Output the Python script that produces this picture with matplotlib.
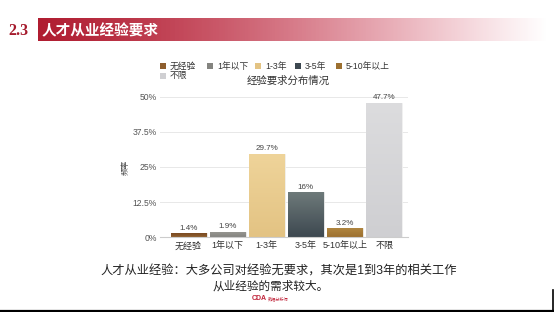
import numpy as np
import matplotlib
matplotlib.use("Agg")
import matplotlib.pyplot as plt
from matplotlib.patches import Rectangle
from matplotlib.colors import to_rgb

plt.rcParams['font.family'] = ['Liberation Sans', 'Noto Sans CJK SC', 'DejaVu Sans']

categories = ['无经验', '1年以下', '1-3年', '3-5年', '5-10年以上', '不限']
values = [1.4, 1.9, 29.7, 16.0, 3.2, 47.7]
value_labels = ['1.4%', '1.9%', '29.7%', '16%', '3.2%', '47.7%']
yticks = [0, 12.5, 25, 37.5, 50]
ytick_labels = ['0%', '12.5%', '25%', '37.5%', '50%']
colors_top = ['#7a4a22', '#999893', '#efd49a', '#6e7a7a', '#b08640', '#dcdcde']
colors_bot = ['#8e5e2e', '#848480', '#e3c383', '#3d4850', '#9c7030', '#cfcfd2']

W, H = 554, 312
fig = plt.figure(figsize=(W / 100, H / 100), dpi=100)
fig.patch.set_facecolor('white')

# background / decoration axes in pixel coords
bg = fig.add_axes([0, 0, 1, 1], zorder=0)
bg.set_xlim(0, W)
bg.set_ylim(H, 0)
bg.axis('off')

# banner gradient
n = 256
grad = np.zeros((1, n, 4))
base = np.array(to_rgb('#b01c30'))
tgt = np.array(to_rgb('#e890a0'))
t = np.linspace(0, 1, n)
for i in range(3):
    grad[0, :, i] = base[i] * (1 - t) + tgt[i] * t
grad[0, :, 3] = np.clip(1.0 - t ** 2.2, 0, 1)
bg.imshow(grad, extent=(38, 548, 41, 18), aspect='auto', interpolation='bilinear')
bg.set_xlim(0, W)
bg.set_ylim(H, 0)

bg.text(8, 31, '2.3', color='#a51a2c', fontsize=11.5, fontweight='bold',
        family=['Liberation Serif', 'DejaVu Serif'], va='center', ha='left')
bg.text(42, 30.5, '人才从业经验要求', color='white', fontsize=10.5, fontweight='bold',
        family=['Noto Sans CJK SC'], va='center', ha='left')

# bottom text
bg.text(278.5, 272, '人才从业经验：大多公司对经验无要求，其次是1到3年的相关工作',
        fontsize=8.8, color='#222222', ha='center', va='center')
bg.text(271, 287, '从业经验的需求较大。', fontsize=8.4, color='#222222',
        ha='center', va='center')
bg.text(267, 299, 'CDA', fontsize=5, color='#c0243a', fontweight='bold',
        ha='right', va='center')
bg.text(268, 299, '数据分析师', fontsize=3, color='#c0243a', ha='left', va='center')

# frame lines at bottom/right
bg.plot([0, W], [310.8, 310.8], color='black', lw=1.6, solid_capstyle='butt')
bg.plot([552.5, 552.5], [290, 311], color='black', lw=1.2)

# legend (manual)
leg_items = [(163, 66), (210, 66), (258, 66), (298, 66), (339, 66), (163, 75.5)]
for (x, y), lab, c in zip(leg_items, categories, colors_bot):
    bg.add_patch(Rectangle((x - 3, y - 3), 6, 6, facecolor=c, edgecolor='none'))
    bg.text(x + 7, y, lab, fontsize=6.3, color='#333333', ha='left', va='center')
bg.text(288, 81, '经验要求分布情况', fontsize=7.5, color='#333333', ha='center', va='center')

# main axes
x0, x1 = 160, 408
ybot, ytop = 237.3, 96.7
ax = fig.add_axes([x0 / W, (H - ybot) / H, (x1 - x0) / W, (ybot - ytop) / H], zorder=1)
ax.patch.set_alpha(0)
x = np.arange(len(categories))
bars = ax.bar(x, values, width=0.92, color=colors_bot, edgecolor='#f2f2f2', linewidth=0.6, zorder=2)
# gradient fill clipped to each bar
for b, ct, cb in zip(bars, colors_top, colors_bot):
    ctop, cbot = np.array(to_rgb(ct)), np.array(to_rgb(cb))
    g = np.linspace(0, 1, 64)[:, None]
    img = ctop[None, :] * (1 - g) + cbot[None, :] * g
    img = img[:, None, :]
    bx, by = b.get_x(), b.get_y()
    im = ax.imshow(img, extent=(bx, bx + b.get_width(), by, by + b.get_height()),
                   aspect='auto', zorder=2.5, interpolation='bilinear')
    im.set_clip_path(b)

for xi, v, lab in zip(x, values, value_labels):
    ax.text(xi, v + 0.6, lab, fontsize=5.8, color='#444444', ha='center', va='bottom', zorder=3)

ax.set_xlim(-0.73, 5.61)
ax.set_ylim(0, 50)
ax.set_yticks(yticks)
ax.set_yticklabels(ytick_labels, fontsize=6.2, color='#555555')
ax.set_xticks(x)
ax.set_xticklabels(categories, fontsize=6.5, color='#333333')
ax.tick_params(axis='both', length=0, pad=2.5)
ax.tick_params(axis='x', pad=3)
ax.grid(axis='y', color='#e8e8e8', lw=0.7, zorder=0)
ax.set_axisbelow(True)
for s in ['top', 'right', 'left']:
    ax.spines[s].set_visible(False)
ax.spines['bottom'].set_color('#cccccc')
ax.spines['bottom'].set_linewidth(0.8)
ax.set_ylabel('频率', fontsize=5.5, color='#444444', labelpad=2)

fig.savefig('out.png', dpi=100, facecolor='white')
